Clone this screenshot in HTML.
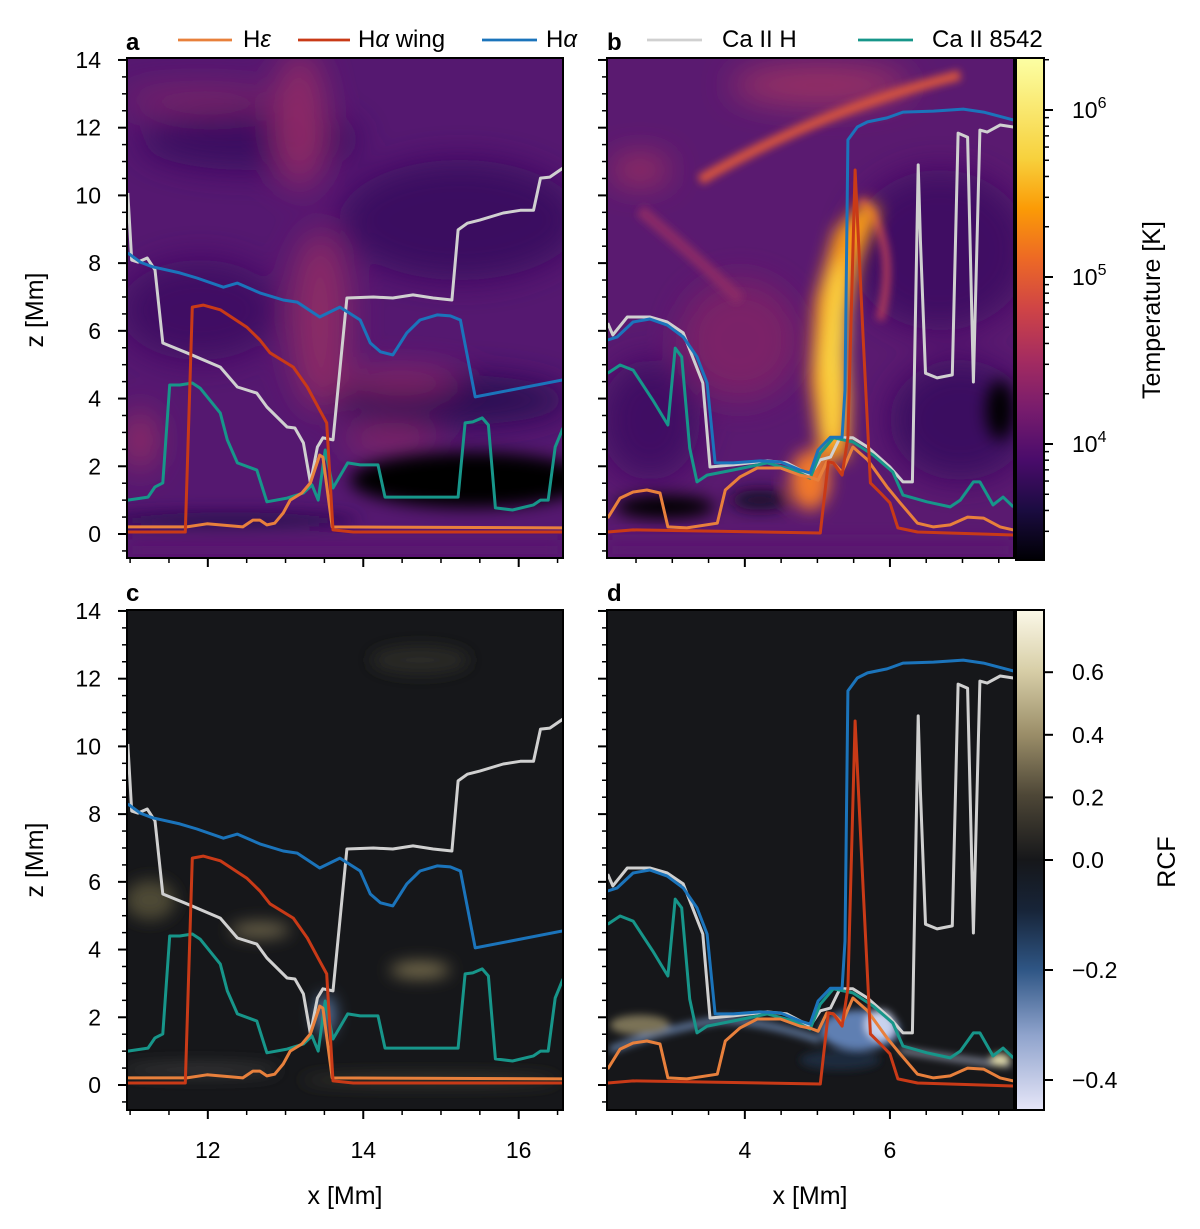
<!DOCTYPE html>
<html><head><meta charset="utf-8"><style>
html,body{margin:0;padding:0;background:#fff;}
svg text{font-family:"Liberation Sans","DejaVu Sans",sans-serif;fill:#000;}
</style></head><body>
<svg id="fig" width="1200" height="1224" xmlns="http://www.w3.org/2000/svg">
<defs>
<filter id="b8" x="-50%" y="-50%" width="200%" height="200%"><feGaussianBlur stdDeviation="8"/></filter>
<filter id="b14" x="-50%" y="-50%" width="200%" height="200%"><feGaussianBlur stdDeviation="16"/></filter>
<filter id="b4" x="-50%" y="-50%" width="200%" height="200%"><feGaussianBlur stdDeviation="4"/></filter>
<clipPath id="cpa"><rect x="127" y="58" width="436" height="500"/></clipPath>
<clipPath id="cpb"><rect x="607" y="58" width="407" height="500"/></clipPath>
<clipPath id="cpc"><rect x="127" y="610" width="436" height="500"/></clipPath>
<clipPath id="cpd"><rect x="607" y="610" width="407" height="500"/></clipPath>
<linearGradient id="inferno" x1="0" y1="1" x2="0" y2="0">
<stop offset="0" stop-color="#000004"/><stop offset="0.1" stop-color="#1b0c41"/><stop offset="0.2" stop-color="#4a0c6b"/><stop offset="0.3" stop-color="#781c6d"/><stop offset="0.4" stop-color="#a52c60"/><stop offset="0.5" stop-color="#cf4446"/><stop offset="0.6" stop-color="#ed6925"/><stop offset="0.7" stop-color="#fb9b06"/><stop offset="0.8" stop-color="#f7d13d"/><stop offset="1" stop-color="#fcffa4"/>
</linearGradient>
<linearGradient id="rcf" x1="0" y1="0" x2="0" y2="1">
<stop offset="0" stop-color="#fbf8e8"/><stop offset="0.12" stop-color="#d8cfa8"/><stop offset="0.25" stop-color="#9a8d68"/><stop offset="0.37" stop-color="#4e4737"/><stop offset="0.5" stop-color="#16171a"/><stop offset="0.6" stop-color="#172438"/><stop offset="0.72" stop-color="#2f5685"/><stop offset="0.85" stop-color="#8fa3cc"/><stop offset="1" stop-color="#e6e6f8"/>
</linearGradient>
</defs>

<g clip-path="url(#cpa)">
<rect x="127" y="58" width="436" height="500" fill="#551870"/>
<g filter="url(#b14)">
<ellipse cx="250" cy="140" rx="110" ry="30" fill="#3a1060"/>
<ellipse cx="460" cy="220" rx="120" ry="60" fill="#3a1060"/>
<ellipse cx="200" cy="310" rx="80" ry="50" fill="#400f64"/>
<ellipse cx="450" cy="400" rx="120" ry="25" fill="#2b0b52"/>
<ellipse cx="300" cy="120" rx="25" ry="70" fill="#8e2c66"/>
<ellipse cx="320" cy="320" rx="30" ry="90" fill="#8a2966"/>
<ellipse cx="200" cy="100" rx="80" ry="12" fill="#7e2568"/>
<ellipse cx="140" cy="440" rx="15" ry="30" fill="#9a3063"/>
<ellipse cx="400" cy="380" rx="60" ry="10" fill="#922c66"/>
<ellipse cx="390" cy="440" rx="50" ry="12" fill="#8a2a66"/>
</g>
<g filter="url(#b8)">
<ellipse cx="470" cy="480" rx="120" ry="28" fill="#000000"/>
<ellipse cx="230" cy="520" rx="130" ry="8" fill="#2a0c50"/>
<rect x="127" y="540" width="436" height="20" fill="#5a1670"/>
</g>
</g>

<g clip-path="url(#cpb)">
<rect x="607" y="58" width="407" height="500" fill="#5a1a70"/>
<g filter="url(#b14)">
<ellipse cx="940" cy="250" rx="90" ry="80" fill="#400f64"/>
<ellipse cx="960" cy="420" rx="70" ry="60" fill="#3a1060"/>
<ellipse cx="650" cy="420" rx="50" ry="60" fill="#400f64"/>
<ellipse cx="740" cy="340" rx="60" ry="60" fill="#7a2468"/>
<ellipse cx="640" cy="170" rx="30" ry="14" fill="#a0305f"/>
<ellipse cx="820" cy="85" rx="90" ry="20" fill="#9a3063"/>
</g>
<g filter="url(#b4)">
<path d="M 700 180 Q 820 110 960 75" stroke="#d8553c" stroke-width="10" fill="none"/>
<path d="M 640 210 Q 700 260 740 300" stroke="#8a2a66" stroke-width="12" fill="none"/>
<path d="M 860 200 Q 900 240 880 320" stroke="#b03a5a" stroke-width="8" fill="none"/>
</g>
<g filter="url(#b8)">
<path d="M 820 460 L 810 380 L 815 300 L 835 230 L 865 200 L 880 210 L 860 260 L 845 330 L 850 400 L 848 460 Z" fill="#f89a18"/>
<path d="M 825 440 L 820 360 L 830 280 L 845 250 L 848 330 L 840 440 Z" fill="#f9d342"/>
<ellipse cx="810" cy="480" rx="20" ry="30" fill="#f0782a"/>
<ellipse cx="1000" cy="410" rx="14" ry="30" fill="#000000"/>
<ellipse cx="665" cy="507" rx="50" ry="12" fill="#000000"/>
<ellipse cx="760" cy="500" rx="30" ry="10" fill="#180828"/>
<rect x="607" y="540" width="407" height="20" fill="#5a1670"/>
</g>
</g>

<g clip-path="url(#cpc)">
<rect x="127" y="610" width="436" height="500" fill="#16171a"/>
<g filter="url(#b8)">
<ellipse cx="420" cy="660" rx="50" ry="14" fill="#2a2a26"/>
<ellipse cx="150" cy="900" rx="25" ry="20" fill="#4e4836"/>
<ellipse cx="260" cy="930" rx="30" ry="8" fill="#6a6248"/>
<ellipse cx="420" cy="970" rx="30" ry="8" fill="#7a7050"/>
<ellipse cx="200" cy="1070" rx="80" ry="6" fill="#3a3a3a"/>
<ellipse cx="325" cy="1015" rx="10" ry="20" fill="#5a7aa8"/>
<ellipse cx="430" cy="1080" rx="130" ry="4" fill="#4a4638"/>
</g>
</g>

<g clip-path="url(#cpd)">
<rect x="607" y="610" width="407" height="500" fill="#16171a"/>
<g filter="url(#b4)">
<path d="M 610 1050 Q 660 1030 720 1020 Q 760 1020 820 1040" stroke="#6a86b0" stroke-width="6" fill="none"/>
<ellipse cx="640" cy="1025" rx="30" ry="10" fill="#7a7256"/>
<ellipse cx="860" cy="1030" rx="40" ry="20" fill="#5f7fb2"/>
<ellipse cx="880" cy="1025" rx="15" ry="15" fill="#c8d2ee"/>
<ellipse cx="840" cy="1060" rx="40" ry="10" fill="#1e2a3e"/>
<path d="M 900 1050 Q 960 1060 1010 1065" stroke="#b0b8d0" stroke-width="4" fill="none"/>
<ellipse cx="1000" cy="1060" rx="10" ry="6" fill="#e8e2b0"/>
</g>
</g>

<g id="lines"></g>
<g id="axes"></g>

<rect x="1016" y="58" width="28" height="502" fill="url(#inferno)" stroke="#000" stroke-width="2"/>
<rect x="1016" y="610" width="28" height="500" fill="url(#rcf)" stroke="#000" stroke-width="2"/>
<text x="1160" y="310" font-size="25" text-anchor="middle" transform="rotate(-90 1160 310)">Temperature [K]</text>
<text x="1175" y="862" font-size="25" text-anchor="middle" transform="rotate(-90 1175 862)">RCF</text>

<g font-size="24">
<line x1="178" y1="40" x2="232" y2="40" stroke="#e8803c" stroke-width="2.8"/>
<text x="243" y="47">H<tspan font-style="italic">ε</tspan></text>
<line x1="298" y1="40" x2="350" y2="40" stroke="#c93a17" stroke-width="2.8"/>
<text x="358" y="47">H<tspan font-style="italic">α</tspan> wing</text>
<line x1="482" y1="40" x2="537" y2="40" stroke="#1b74bb" stroke-width="2.8"/>
<text x="546" y="47">H<tspan font-style="italic">α</tspan></text>
<line x1="647" y1="40" x2="702" y2="40" stroke="#d0d0d0" stroke-width="2.8"/>
<text x="722" y="47">Ca II H</text>
<line x1="858" y1="40" x2="913" y2="40" stroke="#17968a" stroke-width="2.8"/>
<text x="932" y="47">Ca II 8542</text>
</g>
<text x="126" y="50" font-size="24" font-weight="bold">a</text>
<text x="607" y="50" font-size="24" font-weight="bold">b</text>
<text x="126" y="601" font-size="24" font-weight="bold">c</text>
<text x="607" y="601" font-size="24" font-weight="bold">d</text>
<text x="43" y="310" font-size="25" text-anchor="middle" transform="rotate(-90 43 310)">z [Mm]</text>
<text x="43" y="860" font-size="25" text-anchor="middle" transform="rotate(-90 43 860)">z [Mm]</text>
<text x="345" y="1204" font-size="25" text-anchor="middle">x [Mm]</text>
<text x="810" y="1204" font-size="25" text-anchor="middle">x [Mm]</text>
</svg>
<script>
// ---- data: left column (panels a, c) ----
const L_caH_x = [10.97,11.02,11.10,11.22,11.32,11.42,11.73,12.16,12.38,12.63,12.76,13.02,13.12,13.23,13.32,13.41,13.48,13.61,13.79,14.13,14.38,14.64,14.90,15.14,15.22,15.34,15.50,15.80,16.02,16.19,16.28,16.40,16.57];
const L_caH_z = [10.07,8.09,8.03,8.15,7.80,5.64,5.35,4.93,4.34,4.16,3.75,3.16,3.13,2.69,1.51,2.57,2.84,2.78,6.97,7.00,6.97,7.06,6.97,6.91,8.98,9.18,9.27,9.48,9.56,9.56,10.51,10.54,10.81];
const L_ha_x = [10.97,11.13,11.29,11.64,11.86,12.20,12.38,12.67,12.97,13.15,13.44,13.70,13.96,14.09,14.22,14.38,14.56,14.73,14.95,15.12,15.25,15.44,16.57];
const L_ha_z = [8.30,8.03,7.89,7.71,7.56,7.29,7.41,7.12,6.91,6.85,6.41,6.70,6.32,5.64,5.38,5.29,5.94,6.32,6.47,6.44,6.32,4.05,4.55];
const L_haw_x = [10.97,11.71,11.80,11.94,12.16,12.50,12.67,12.80,13.10,13.28,13.44,13.53,13.55,13.61,13.87,16.57];
const L_haw_z = [0.06,0.06,6.70,6.76,6.62,6.11,5.73,5.35,4.93,4.34,3.66,3.28,2.48,0.12,0.06,0.06];
const L_he_x = [10.97,11.73,11.99,12.45,12.58,12.67,12.76,12.86,12.97,13.06,13.21,13.32,13.44,13.48,13.60,16.57];
const L_he_z = [0.21,0.21,0.30,0.21,0.41,0.41,0.27,0.32,0.62,1.00,1.21,1.51,2.33,2.27,0.21,0.18];
const L_ca8_x = [10.97,11.23,11.32,11.42,11.51,11.64,11.80,11.90,12.16,12.25,12.38,12.63,12.76,13.02,13.23,13.34,13.42,13.51,13.61,13.80,13.96,14.19,14.28,14.73,15.22,15.31,15.41,15.53,15.61,15.70,15.92,16.19,16.28,16.38,16.47,16.57];
const L_ca8_z = [1.00,1.09,1.39,1.51,4.40,4.40,4.46,4.31,3.57,2.78,2.10,1.89,0.95,1.06,1.21,1.45,1.00,2.48,1.36,2.10,2.04,2.04,1.09,1.09,1.09,3.28,3.31,3.43,3.22,0.77,0.71,0.86,1.00,1.00,2.57,3.13];
// ---- data: right column (panels b, d) ----
const R_caH_x = [2.11,2.18,2.38,2.69,2.93,3.15,3.42,3.52,3.84,4.31,4.58,4.90,5.04,5.18,5.31,5.49,5.69,6.00,6.18,6.31,6.39,6.42,6.49,6.65,6.86,6.94,7.07,7.15,7.24,7.34,7.52,7.70];
const R_caH_z = [6.23,5.88,6.41,6.41,6.26,5.94,4.46,1.98,2.04,2.16,2.10,1.74,2.19,2.27,2.84,2.84,2.57,1.98,1.54,1.54,10.90,8.68,4.75,4.61,4.70,11.84,11.72,4.49,11.93,11.87,12.08,12.02];
const R_ha_x = [2.11,2.24,2.46,2.69,2.93,3.15,3.34,3.48,3.59,3.84,4.21,4.49,4.76,4.90,5.01,5.18,5.34,5.38,5.42,5.55,5.69,5.96,6.18,6.60,7.01,7.29,7.70];
const R_ha_z = [5.73,5.82,6.26,6.35,6.17,5.82,5.23,4.46,2.10,2.10,2.16,2.13,1.89,1.80,2.48,2.86,2.86,4.25,11.64,12.02,12.17,12.29,12.46,12.49,12.55,12.46,12.23];
const R_haw_x = [2.11,2.46,5.04,5.15,5.22,5.34,5.42,5.52,5.63,5.73,5.87,6.00,6.11,6.38,7.70];
const R_haw_z = [0.06,0.12,0.03,2.13,2.10,1.74,2.86,10.75,5.82,1.51,1.21,0.92,0.18,0.06,-0.03];
const R_he_x = [2.11,2.28,2.46,2.65,2.83,2.94,3.20,3.62,3.73,3.93,4.17,4.49,4.76,4.90,5.01,5.13,5.22,5.34,5.49,5.69,5.96,6.14,6.38,6.60,6.83,7.07,7.29,7.52,7.70];
const R_he_z = [0.47,1.06,1.24,1.30,1.21,0.21,0.18,0.32,1.30,1.68,1.95,1.95,1.74,1.68,1.59,2.13,2.10,1.83,2.57,2.19,1.39,0.92,0.32,0.21,0.27,0.50,0.47,0.21,0.12];
const R_ca8_x = [2.11,2.28,2.46,2.73,2.94,3.04,3.13,3.24,3.34,3.48,3.84,4.31,4.67,4.90,5.04,5.22,5.49,5.77,6.04,6.18,6.51,6.83,6.97,7.15,7.24,7.42,7.56,7.70];
const R_ca8_z = [4.75,4.99,4.84,3.96,3.22,5.49,5.23,2.54,1.54,1.74,1.89,2.10,1.89,1.65,2.39,2.84,2.72,2.33,1.83,1.15,0.95,0.80,1.00,1.54,1.54,0.86,1.09,0.80];
// tick labels
const zTicks = [0,2,4,6,8,10,12,14];
const L_xTicks = [12,14,16];
const R_xTicks = [4,6];
const T_ticks = [4,5,6];
const RCF_ticks = [0.6,0.4,0.2,0.0,-0.2,-0.4];

const NS = "http://www.w3.org/2000/svg";
function mk(tag, attrs, parent){const e=document.createElementNS(NS,tag);for(const k in attrs)e.setAttribute(k,attrs[k]);parent.appendChild(e);return e;}
const panels = [
 {id:'a', x0:127, x1:563, xmin:10.96, xmax:16.57, zb:534, clip:'cpa', top:58, bottom:558, left:true, side:'L', xl:false},
 {id:'b', x0:607, x1:1014, xmin:2.10, xmax:7.71, zb:534, clip:'cpb', top:58, bottom:558, left:false, side:'R', xl:false},
 {id:'c', x0:127, x1:563, xmin:10.96, xmax:16.57, zb:1085, clip:'cpc', top:610, bottom:1110, left:true, side:'L', xl:true},
 {id:'d', x0:607, x1:1014, xmin:2.10, xmax:7.71, zb:1085, clip:'cpd', top:610, bottom:1110, left:false, side:'R', xl:true}
];
const pxPerMm = 33.86;
const series = [
 {k:'caH', c:'#d0d0d0', n:'caii-h-line'},
 {k:'ca8', c:'#17968a', n:'caii-8542-line'},
 {k:'he', c:'#e8803c', n:'hepsilon-line'},
 {k:'haw', c:'#c93a17', n:'halpha-wing-line'},
 {k:'ha', c:'#1b74bb', n:'halpha-line'}
];
const D = {L_caH_x,L_caH_z,L_ha_x,L_ha_z,L_haw_x,L_haw_z,L_he_x,L_he_z,L_ca8_x,L_ca8_z,R_caH_x,R_caH_z,R_ha_x,R_ha_z,R_haw_x,R_haw_z,R_he_x,R_he_z,R_ca8_x,R_ca8_z};
const gl = document.getElementById('lines');
const ga = document.getElementById('axes');
panels.forEach(p=>{
  const sx = v => p.x0 + (v-p.xmin)/(p.xmax-p.xmin)*(p.x1-p.x0);
  const sz = v => p.zb - v*pxPerMm;
  const g = mk('g',{'clip-path':'url(#'+p.clip+')'},gl);
  series.forEach(s=>{
    const xs = D[p.side+'_'+s.k+'_x'], zs = D[p.side+'_'+s.k+'_z'];
    const pts = xs.map((x,i)=>sx(x).toFixed(1)+','+sz(zs[i]).toFixed(1)).join(' ');
    const pl = mk('polyline',{points:pts,fill:'none',stroke:s.c,'stroke-width':3,'stroke-linejoin':'round'},g);
    
    
  });
  const fr = mk('rect',{x:p.x0,y:p.top,width:p.x1-p.x0,height:p.bottom-p.top,fill:'none',stroke:'#000','stroke-width':2},ga);
  
  
  for(let z=-0.5; z<=14.5; z+=0.5){
    const y = sz(z); if(y<p.top-1||y>p.bottom+1) continue;
    const major = Math.abs(z-Math.round(z/2)*2)<1e-6;
    mk('line',{x1:p.x0,x2:p.x0-(major?9:5),y1:y,y2:y,stroke:'#000','stroke-width':major?2:1.5},ga);
  }
  if(p.left){
    zTicks.forEach(z=>{
      const t = mk('text',{x:p.x0-26,y:sz(z)+8,'font-size':23,'text-anchor':'end'},ga);
      t.textContent = z;
      
      
    });
  }
  const xt = p.side==='L'?L_xTicks:R_xTicks;
  for(let x=Math.ceil(p.xmin*2)/2; x<=p.xmax; x+=0.5){
    const X = sx(x);
    const major = xt.some(v=>Math.abs(v-x)<1e-6);
    mk('line',{x1:X,x2:X,y1:p.bottom,y2:p.bottom+(major?9:5),stroke:'#000','stroke-width':major?2:1.5},ga);
  }
  if(p.xl){
    xt.forEach(x=>{
      const t = mk('text',{x:sx(x),y:p.bottom+48,'font-size':23,'text-anchor':'middle'},ga);
      t.textContent = x;
      
      
    });
  }
});
const tY = e => 444 - (e-4)*167;
for(let e=3; e<7; e++){
  for(let m=1;m<10;m++){
    const y = tY(e+Math.log10(m)); if(y<58||y>560) continue;
    mk('line',{x1:1044,x2:1044+(m===1?9:5),y1:y,y2:y,stroke:'#000','stroke-width':m===1?2:1.5},ga);
  }
}
T_ticks.forEach(e=>{
  const t = mk('text',{x:1072,y:tY(e)+8,'font-size':23},ga);
  
  
  t.appendChild(document.createTextNode('10'));
  const sp = mk('tspan',{dy:-10,'font-size':16},t);
  sp.textContent = e;
});
const rY = v => v>=0 ? 860 - v*313 : 860 - v*550;
RCF_ticks.forEach(v=>{
  const y = rY(v);
  mk('line',{x1:1044,x2:1053,y1:y,y2:y,stroke:'#000','stroke-width':2},ga);
  const t = mk('text',{x:1072,y:y+8,'font-size':23},ga);
  t.textContent = v<0 ? '\u2212'+Math.abs(v).toFixed(1) : v.toFixed(1);
  
  
});
</script>
</body></html>
